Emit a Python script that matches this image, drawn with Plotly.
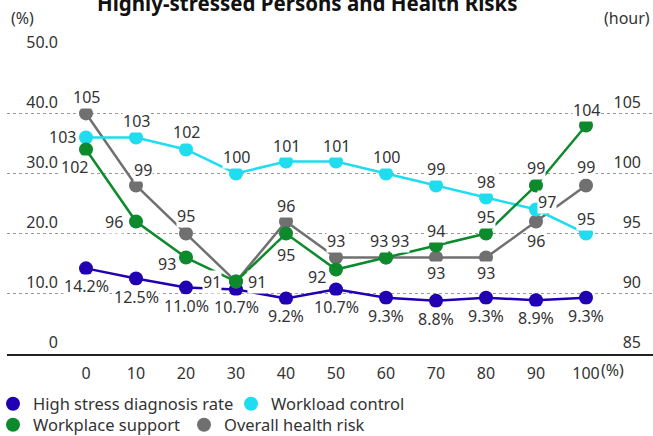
import plotly.graph_objects as go

# Share of over-time (%) on the x axis
x_vals = [0, 10, 20, 30, 40, 50, 60, 70, 80, 90, 100]
x_ticktext = ["0", "10", "20", "30", "40", "50", "60", "70", "80", "90", "100"]

# Left axis (%)
high_stress = [14.2, 12.5, 11.0, 10.7, 9.2, 10.7, 9.3, 8.8, 9.3, 8.9, 9.3]
# Right axis (hour)
workload = [103, 103, 102, 100, 101, 101, 100, 99, 98, 97, 95]
support = [102, 96, 93, 91, 95, 92, 93, 94, 95, 99, 104]
overall = [105, 99, 95, 91, 96, 93, 93, 93, 93, 96, 99]

left_ticks = [0, 10, 20, 30, 40, 50]
left_ticktext = ["0", "10.0", "20.0", "30.0", "40.0", "50.0"]
right_ticks = [85, 90, 95, 100, 105, 110]

names = ["High stress diagnosis rate", "Workload control",
         "Workplace support", "Overall health risk"]
C_BLUE = "#2000b2"
C_CYAN = "#1fdcef"
C_GREEN = "#0c8a2c"
C_GRAY = "#707070"

FONT = "Noto Sans"
TXT = "#333333"
LBL_SIZE = 16

# Label offsets from each point, in px (dx right, dy down)
off_blue = [(0, 18)] * 11
off_cyan = [(-24, 0), (0, -16), (0, -17), (0, -16), (0, -15), (0, -15),
            (0, -16), (0, -16), (0, -15), (11, -8), (0, -15)]
off_green = [(-12, 18), (-22, 0), (-19, 6), (21, 0), (0, 21), (-19, 7),
             (14, -17), (0, -15), (0, -17), (0, -17), (0, -15)]
off_gray = [(0, -16), (7, -15), (0, -18), (-24, 0), (0, -16), (0, -17),
            (-7, -17), (0, 15), (0, 15), (0, 19), (0, -18)]

fig = go.Figure()


def series(y, color, axis):
    return go.Scatter(
        x=x_vals, y=y, yaxis=axis, mode="lines+markers",
        line=dict(color=color, width=2.5),
        marker=dict(color=color, size=14),
        showlegend=False, cliponaxis=False, hoverinfo="skip",
    )


fig.add_trace(series(overall, C_GRAY, "y2"))
fig.add_trace(series(workload, C_CYAN, "y2"))
fig.add_trace(series(support, C_GREEN, "y2"))
fig.add_trace(series(high_stress, C_BLUE, "y"))

# Legend entries (marker only), one small legend per entry
legend_ids = ["legend", "legend2", "legend3", "legend4"]
for name, color, lg in zip(names, [C_BLUE, C_CYAN, C_GREEN, C_GRAY], legend_ids):
    fig.add_trace(go.Scatter(x=[None], y=[None], mode="markers", name=name,
                             marker=dict(color=color, size=14), legend=lg))

W, H = 653, 436
ML, MR, MT, MB = 7, 0, 53, 82
PW = W - ML - MR
PH = H - MT - MB


def px_x(p):
    return (p - ML) / PW


def px_y(p):
    return (MT + PH - p) / PH


# Data labels, placed from the series values
annotations = []
for vals, offs, ref, fmt in [
    (overall, off_gray, "y2", "{:d}"),
    (workload, off_cyan, "y2", "{:d}"),
    (support, off_green, "y2", "{:d}"),
    (high_stress, off_blue, "y", "{:.1f}%"),
]:
    for xv, v, (dx, dy) in zip(x_vals, vals, offs):
        annotations.append(dict(
            x=xv, y=v, xref="x", yref=ref, text=fmt.format(v),
            xshift=dx, yshift=-dy, xanchor="center", yanchor="middle",
            showarrow=False, bgcolor="white", borderpad=0,
            font=dict(family=FONT, size=LBL_SIZE, color=TXT),
        ))

annotations += [
    dict(text="<b>Highly-stressed Persons and Health Risks</b>",
         xref="paper", yref="paper", x=px_x(307), y=px_y(3),
         xanchor="center", yanchor="middle", showarrow=False,
         font=dict(family=FONT, size=20.5, color="#111111")),
    dict(text="(%)", xref="paper", yref="paper", x=px_x(22), y=px_y(18),
         xanchor="center", yanchor="middle", showarrow=False,
         font=dict(family=FONT, size=16, color=TXT)),
    dict(text="(hour)", xref="paper", yref="paper", x=px_x(652), y=px_y(18),
         xanchor="right", yanchor="middle", showarrow=False,
         font=dict(family=FONT, size=16, color=TXT)),
    dict(text="(%)", xref="x", yref="paper", x=100, xshift=13,
         y=px_y(370), xanchor="left", yanchor="middle",
         showarrow=False, font=dict(family=FONT, size=16, color=TXT)),
]

legend_style = dict(orientation="h", xanchor="left", yanchor="middle",
                    font=dict(family=FONT, size=16.5, color=TXT),
                    bgcolor="rgba(0,0,0,0)", itemclick=False, itemwidth=30)

# marker centres of the legend entries
legend_pos = [(17, 404), (255, 404), (17, 425), (208, 425)]
legends = {}
for lg, (mx, my) in zip(legend_ids, legend_pos):
    legends[lg] = dict(x=px_x(mx - 24), y=px_y(my), **legend_style)

fig.update_layout(
    width=W, height=H,
    margin=dict(l=ML, r=MR, t=MT, b=MB, autoexpand=False),
    paper_bgcolor="white", plot_bgcolor="white",
    font=dict(family=FONT, size=16, color=TXT),
    xaxis=dict(
        domain=[0, 1], range=[-15.8, 113.4],
        tickvals=x_vals, ticktext=x_ticktext, tickfont=dict(size=16, color=TXT),
        showgrid=False, zeroline=False, showline=True,
        linecolor="#222222", linewidth=2, ticks="", ticklabelstandoff=4,
    ),
    yaxis=dict(
        range=[-0.06, 50.06], tickvals=left_ticks, ticktext=left_ticktext,
        anchor="free", position=px_x(58), automargin=False,
        ticklabelposition="outside top", tickfont=dict(size=16, color=TXT),
        showgrid=True, gridcolor="#9a9a9a", griddash="dot", gridwidth=1,
        zeroline=False, showline=False, ticks="",
    ),
    yaxis2=dict(
        range=[84.97, 110.03], tickvals=right_ticks, overlaying="y", side="right",
        anchor="free", position=px_x(644), automargin=False,
        ticklabelposition="inside top", tickfont=dict(size=16, color=TXT),
        showgrid=False, zeroline=False, showline=False, ticks="",
    ),
    annotations=annotations,
    **legends,
)

fig.write_html("out.html")
